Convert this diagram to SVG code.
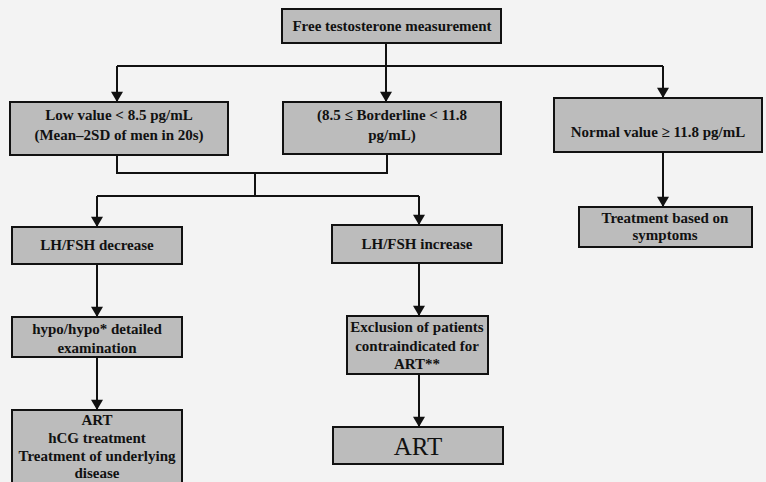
<svg xmlns="http://www.w3.org/2000/svg" width="766" height="482" viewBox="0 0 766 482">
<defs>
<style>
.box{fill:#bcbcbc;stroke:#111;stroke-width:2}
.t{font-family:"Liberation Serif","Times New Roman",serif;font-size:15px;font-weight:bold;fill:#111;text-anchor:middle}
.big{font-family:"Liberation Serif","Times New Roman",serif;font-size:25px;fill:#111;text-anchor:middle}
.ln{fill:none;stroke:#111;stroke-width:2}
</style>
<marker id="ah" viewBox="0 0 12 14" refX="12" refY="7" markerWidth="14" markerHeight="12" markerUnits="userSpaceOnUse" orient="auto">
<path d="M0,0 L12,7 L0,14 Z" fill="#111"/>
</marker>
</defs>
<rect width="766" height="482" fill="#f3f3f3"/>
<g id="connectors">
<path class="ln" d="M386,43 V66"/>
<path class="ln" d="M117,66 H663"/>
<path class="ln" d="M117,66 V102" marker-end="url(#ah)"/>
<path class="ln" d="M386,66 V102" marker-end="url(#ah)"/>
<path class="ln" d="M663,66 V98" marker-end="url(#ah)"/>
<path class="ln" d="M117,155 V173 H387 V154"/>
<path class="ln" d="M255,173 V196"/>
<path class="ln" d="M97,196 H419"/>
<path class="ln" d="M97,196 V227" marker-end="url(#ah)"/>
<path class="ln" d="M419,196 V225" marker-end="url(#ah)"/>
<path class="ln" d="M663,152 V207" marker-end="url(#ah)"/>
<path class="ln" d="M97,264 V317" marker-end="url(#ah)"/>
<path class="ln" d="M97,357 V410" marker-end="url(#ah)"/>
<path class="ln" d="M419,263 V316" marker-end="url(#ah)"/>
<path class="ln" d="M419,374 V427" marker-end="url(#ah)"/>
</g>
<g id="n-free">
<rect class="box" x="282" y="9" width="219" height="34"/>
<text class="t" x="392" y="31">Free testosterone measurement</text>
</g>
<g id="n-low">
<rect class="box" x="10" y="102" width="218" height="53"/>
<text class="t" x="119" y="120">Low value &lt; 8.5 pg/mL</text>
<text class="t" x="119" y="140">(Mean–2SD of men in 20s)</text>
</g>
<g id="n-border">
<rect class="box" x="283" y="102" width="218" height="52"/>
<text class="t" x="392" y="120">(8.5 ≤ Borderline &lt; 11.8</text>
<text class="t" x="392" y="140">pg/mL)</text>
</g>
<g id="n-normal">
<rect class="box" x="554" y="98" width="208" height="54"/>
<text class="t" x="658" y="137">Normal value ≥ 11.8 pg/mL</text>
</g>
<g id="n-treat">
<rect class="box" x="579" y="207" width="173" height="40"/>
<text class="t" x="665" y="223">Treatment based on</text>
<text class="t" x="665" y="240">symptoms</text>
</g>
<g id="n-lhdec">
<rect class="box" x="12" y="227" width="170" height="37"/>
<text class="t" x="97" y="250">LH/FSH decrease</text>
</g>
<g id="n-lhinc">
<rect class="box" x="332" y="225" width="170" height="38"/>
<text class="t" x="417" y="249">LH/FSH increase</text>
</g>
<g id="n-hypo">
<rect class="box" x="12" y="317" width="170" height="40"/>
<text class="t" x="97" y="334">hypo/hypo* detailed</text>
<text class="t" x="97" y="353">examination</text>
</g>
<g id="n-excl">
<rect class="box" x="347" y="316" width="141" height="58"/>
<text class="t" x="417" y="332">Exclusion of patients</text>
<text class="t" x="417" y="351">contraindicated for</text>
<text class="t" x="417" y="369">ART**</text>
</g>
<g id="n-art-left">
<rect class="box" x="12" y="410" width="170" height="80"/>
<text class="t" x="97" y="425">ART</text>
<text class="t" x="97" y="443">hCG treatment</text>
<text class="t" x="97" y="461">Treatment of underlying</text>
<text class="t" x="97" y="478">disease</text>
</g>
<g id="n-art-right">
<rect class="box" x="333" y="427" width="170" height="37"/>
<text class="big" x="418" y="455">ART</text>
</g>
</svg>
